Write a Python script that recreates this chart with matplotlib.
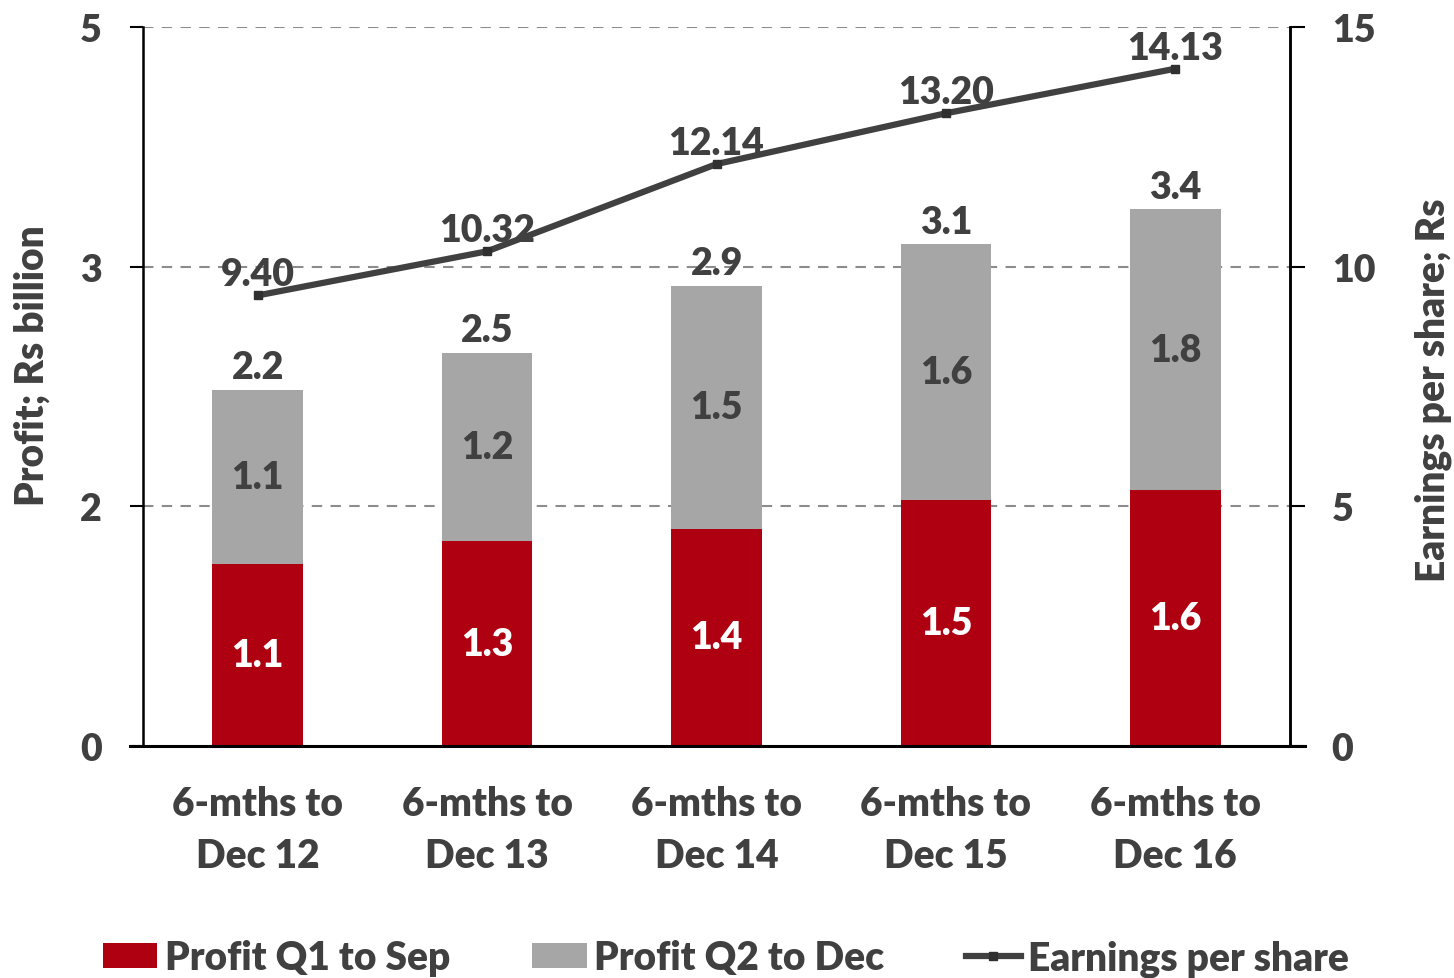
import matplotlib
matplotlib.use("Agg")
import matplotlib.pyplot as plt
from matplotlib.lines import Line2D
from matplotlib.patches import Patch
import numpy as np

categories = ["6-mths to\nDec 12", "6-mths to\nDec 13", "6-mths to\nDec 14", "6-mths to\nDec 15", "6-mths to\nDec 16"]
profit_q1 = [1.14, 1.28, 1.36, 1.54, 1.60]
profit_q2 = [1.09, 1.18, 1.52, 1.60, 1.76]
eps = [9.40, 10.32, 12.14, 13.20, 14.13]
left_ticks = [0, 1.5, 3.0, 4.5]
left_tick_labels = ["0", "2", "3", "5"]
right_ticks = [0, 5, 10, 15]

RED = "#AE0010"
GRAY = "#A6A6A6"
LINE = "#404040"
TXT = "#404040"
FONT = "Lato"
WT = "heavy"

plt.rcParams['font.family'] = [FONT, 'DejaVu Sans']
plt.rcParams['font.weight'] = WT

W, H = 1454, 979
fig = plt.figure(figsize=(W / 100, H / 100), dpi=100)
fig.patch.set_facecolor("white")
ax = fig.add_axes([143 / W, 1 - 747 / H, (1290 - 143) / W, (747 - 28) / H])
ax.set_facecolor("none")

x = np.arange(len(categories))
bw = 0.395
totals = [a + b for a, b in zip(profit_q1, profit_q2)]
ax.bar(x, profit_q1, width=bw, color=RED, zorder=3)
ax.bar(x, profit_q2, width=bw, bottom=profit_q1, color=GRAY, zorder=3)

ax.set_xlim(-0.5, len(categories) - 0.5)
ax.set_ylim(0, 4.5)
ax.set_yticks(left_ticks)
ax.set_yticklabels(left_tick_labels)
ax.set_xticks(x)
ax.set_xticklabels(categories, linespacing=1.5)

for yv in left_ticks[1:]:
    ax.axhline(yv, color="#8C8C8C", lw=1.5, ls=(0, (5, 4)), zorder=1)

ax.spines["top"].set_visible(False)
ax.spines["bottom"].set_visible(False)
ax.spines["left"].set_linewidth(1.8)
ax.spines["right"].set_linewidth(1.8)
ax.axhline(0, xmin=-13 / 1147, xmax=1 + 15 / 1147, color="black", lw=2.2, clip_on=False, zorder=4)

ax.tick_params(axis="y", direction="out", length=9.5, width=1.5, pad=20, labelsize=27, labelcolor=TXT, color="black")
ax.tick_params(axis="x", length=0, pad=28, labelsize=28, labelcolor=TXT)

for xi, a, b, t in zip(x, profit_q1, profit_q2, totals):
    ax.text(xi, a / 2, f"{a:.1f}", ha="center", va="center", color="white", fontsize=27, fontweight=WT, zorder=5)
    ax.text(xi, a + b / 2, f"{b:.1f}", ha="center", va="center", color=TXT, fontsize=27, fontweight=WT, zorder=5)
    ax.annotate(f"{t:.1f}", (xi, t), xytext=(0, 4), textcoords="offset points", ha="center", va="bottom",
                color=TXT, fontsize=27, fontweight=WT, zorder=5)

ax.set_ylabel("Profit; Rs billion", fontsize=28, color=TXT, fontweight=WT, va="center", ha="center")
ax.yaxis.set_label_coords(-0.097, 0.53)

ax2 = ax.twinx()
ax2.set_ylim(0, 15)
ax2.set_yticks(right_ticks)
ax2.plot(x, eps, color=LINE, lw=4.5, marker="s", markersize=6, markerfacecolor="#303030",
         markeredgecolor="#303030", zorder=6, solid_capstyle="round")
for xi, v in zip(x, eps):
    ax2.annotate(f"{v:.2f}", (xi, v), xytext=(0, 3), textcoords="offset points", ha="center", va="bottom",
                 color=TXT, fontsize=27, fontweight=WT, zorder=7)
for s in ["top", "bottom", "left"]:
    ax2.spines[s].set_visible(False)
ax2.spines["right"].set_linewidth(1.8)
ax2.tick_params(axis="y", direction="out", length=11, width=1.5, pad=19, labelsize=27, labelcolor=TXT, color="black")
ax2.set_ylabel("Earnings per share; Rs", fontsize=28, color=TXT, fontweight=WT, rotation=90, va="center", ha="center")
ax2.yaxis.set_label_coords(1.1245, 0.4965)

handles = [Patch(facecolor=RED, edgecolor="none"),
           Patch(facecolor=GRAY, edgecolor="none"),
           Line2D([0], [0], color=LINE, lw=4.5, marker="s", markersize=6, markerfacecolor="#303030",
                  markeredgecolor="#303030")]
labels = ["Profit Q1 to Sep", "Profit Q2 to Dec", "Earnings per share"]
leg = fig.legend(handles, labels, loc="center", bbox_to_anchor=(726 / W, 1 - 959 / H), ncol=3, frameon=False,
                 fontsize=28, handlelength=1.4, handleheight=0.6, handletextpad=0.2, columnspacing=2.1,
                 labelcolor=TXT, borderaxespad=0, borderpad=0)

fig.savefig("out.png", dpi=100, facecolor="white")
